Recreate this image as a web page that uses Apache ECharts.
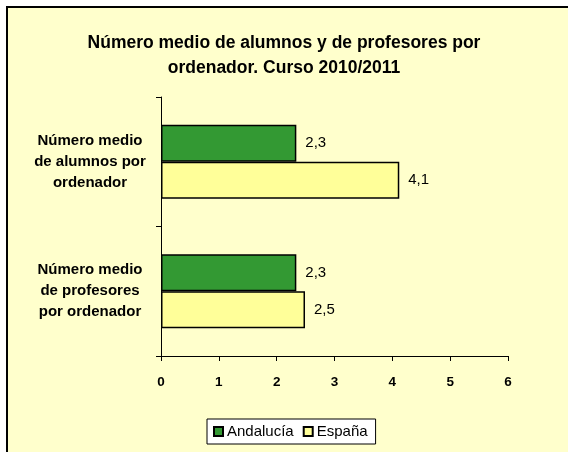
<!DOCTYPE html>
<html>
<head>
<meta charset="utf-8">
<script src="https://cdn.jsdelivr.net/npm/echarts@6/dist/echarts.min.js"></script>
<style>
html,body{margin:0;padding:0;background:#fff;}
#chart{width:568px;height:452px;}
</style>
</head>
<body>
<div id="chart"></div>
<script>
var titleText = 'Número medio de alumnos y de profesores por\nordenador. Curso 2010/2011';
var categories = ['Número medio\nde alumnos por\nordenador', 'Número medio\nde profesores\npor ordenador'];
var seriesNames = ['Andalucía', 'España'];
var andalucia = [2.34, 2.34];
var espana = [4.12, 2.49];
var xTicks = [0, 1, 2, 3, 4, 5, 6];

var FONT = '"Liberation Sans", Arial, sans-serif';
var chart = echarts.init(document.getElementById('chart'), null, {renderer: 'canvas'});

function fmt(p) { return p.value.toFixed(1).replace('.', ','); }

chart.setOption({
  animation: false,
  backgroundColor: 'transparent',
  graphic: [
    {type: 'rect', z: -10, shape: {x: 7, y: 7, width: 561, height: 445}, style: {fill: '#FFFFCC'}},
    {type: 'polyline', z: -9, shape: {points: [[7, 452], [7, 7], [568, 7]]}, style: {stroke: '#000', lineWidth: 2, fill: null}}
  ],
  title: {
    text: titleText,
    left: 'center',
    top: 26,
    textStyle: {fontFamily: FONT, fontSize: 17.5, fontWeight: 'bold', color: '#000', lineHeight: 24.5}
  },
  legend: {
    data: seriesNames,
    left: 207,
    top: 419,
    orient: 'horizontal',
    itemWidth: 9,
    itemHeight: 9,
    itemGap: 9,
    icon: 'rect',
    padding: [5, 8, 5, 6],
    backgroundColor: '#fff',
    borderColor: '#000',
    borderWidth: 1,
    borderRadius: 0,
    textStyle: {fontFamily: FONT, fontSize: 15, color: '#000', padding: [0, 0, 0, -1]}
  },
  grid: {left: 161, top: 97, width: 347, height: 259, containLabel: false},
  xAxis: {
    type: 'value',
    min: xTicks[0],
    max: xTicks[xTicks.length - 1],
    interval: 1,
    axisLine: {show: true, lineStyle: {color: '#000', width: 1}},
    axisTick: {show: true, length: 5, lineStyle: {color: '#000'}},
    splitLine: {show: false},
    axisLabel: {fontFamily: FONT, fontSize: 13.5, fontWeight: 'bold', color: '#000', margin: 19}
  },
  yAxis: {
    type: 'category',
    data: categories,
    inverse: true,
    axisLine: {show: true, lineStyle: {color: '#000', width: 1}},
    axisTick: {show: true, length: 5, lineStyle: {color: '#000'}},
    axisLabel: {fontFamily: FONT, fontSize: 15, fontWeight: 'bold', color: '#000', align: 'center', margin: 71, lineHeight: 21}
  },
  series: [
    {
      name: seriesNames[0], type: 'bar', data: andalucia, barWidth: 37, barGap: '0%',
      itemStyle: {color: '#339933', borderColor: '#000', borderWidth: 1.5},
      label: {show: true, position: 'right', distance: 9, formatter: fmt, fontFamily: FONT, fontSize: 15, color: '#000'}
    },
    {
      name: seriesNames[1], type: 'bar', data: espana, barWidth: 37, barGap: '0%',
      itemStyle: {color: '#FFFF99', borderColor: '#000', borderWidth: 1.5},
      label: {show: true, position: 'right', distance: 9, formatter: fmt, fontFamily: FONT, fontSize: 15, color: '#000'}
    }
  ]
});
</script>
</body>
</html>
